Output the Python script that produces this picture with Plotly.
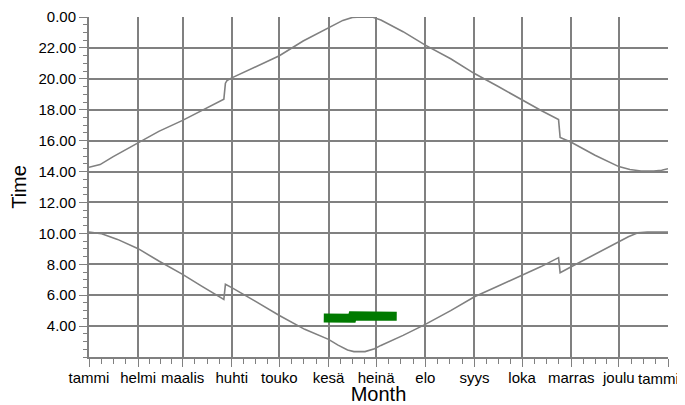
import plotly.graph_objects as go

# Month boundaries (day of year) and labels
month_days = [0, 31, 59, 90, 120, 151, 181, 212, 243, 273, 304, 334, 365]
month_labels = ["tammi", "helmi", "maalis", "huhti", "touko", "kesä", "heinä",
                "elo", "syys", "loka", "marras", "joulu", "tammi"]

# Y ticks (hours), 24 shown as 0.00
hour_ticks = [4, 6, 8, 10, 12, 14, 16, 18, 20, 22, 24]
hour_labels = ["4.00", "6.00", "8.00", "10.00", "12.00", "14.00", "16.00",
               "18.00", "20.00", "22.00", "0.00"]

# Sunset (upper curve)
sunset_day = [0, 7, 15, 31, 44, 59, 72, 85, 86, 87, 90, 105, 120, 135, 151, 160,
              166, 172, 179, 184, 198, 212, 228, 243, 258, 273, 285, 296, 297,
              304, 319, 334, 341, 348, 356, 361, 364, 365]
sunset_h = [14.28, 14.45, 14.95, 15.86, 16.6, 17.31, 17.98, 18.68, 19.72, 19.88,
            20.06, 20.8, 21.49, 22.45, 23.31, 23.78, 23.97, 24.0, 23.98, 23.8,
            23.05, 22.18, 21.3, 20.34, 19.5, 18.61, 17.95, 17.36, 16.2, 15.9,
            15.05, 14.32, 14.13, 14.04, 14.03, 14.08, 14.17, 14.18]

# Sunrise (lower curve)
sunrise_day = [0, 8, 18, 31, 44, 59, 71, 85, 86, 90, 105, 120, 136, 151, 157, 163,
               167, 174, 180, 184, 198, 212, 228, 243, 258, 273, 285, 296, 297,
               304, 319, 334, 340, 346, 352, 365]
sunrise_h = [10.08, 9.97, 9.61, 9.01, 8.21, 7.35, 6.59, 5.73, 6.7, 6.49, 5.6, 4.69,
             3.79, 3.14, 2.77, 2.45, 2.35, 2.35, 2.54, 2.75, 3.4, 4.11, 5.0, 5.9,
             6.6, 7.28, 7.85, 8.43, 7.46, 7.84, 8.65, 9.44, 9.78, 10.04, 10.08, 10.08]

# Green band
green_day = [148, 152, 159, 165.8, 166.2, 180, 190, 194]
green_h = [4.53, 4.52, 4.5, 4.51, 4.66, 4.67, 4.65, 4.64]

GRAY = "#808080"

minor_x = []
for a, b in zip(month_days[:-1], month_days[1:]):
    for k in (1, 2, 3):
        minor_x.append(a + (b - a) * k / 4)

# last label sits at the right edge; drawn as an annotation so it stays inside
tick_text_axis = month_labels[:-1] + [""]

fig = go.Figure()
fig.add_trace(go.Scatter(x=sunset_day, y=sunset_h, mode="lines",
                         line=dict(color=GRAY, width=1.6), showlegend=False,
                         hoverinfo="skip"))
fig.add_trace(go.Scatter(x=sunrise_day, y=sunrise_h, mode="lines",
                         line=dict(color=GRAY, width=1.6), showlegend=False,
                         hoverinfo="skip"))
fig.add_trace(go.Scatter(x=green_day, y=green_h, mode="lines",
                         line=dict(color="#007a00", width=9), showlegend=False,
                         hoverinfo="skip"))

fig.add_annotation(x=month_days[-1], xref="x", y=0, yref="paper",
                   text=month_labels[-1], showarrow=False,
                   xanchor="right", yanchor="top", xshift=13, yshift=-11,
                   font=dict(size=15, color="black"))

# The page body has an 8px margin, so the figure is sized to fit the window.
fig.update_layout(
    width=677, height=397,
    margin=dict(l=81, r=17, t=9, b=48, autoexpand=False),
    paper_bgcolor="white", plot_bgcolor="white",
    font=dict(family="Liberation Sans, Arial, sans-serif", size=15, color="black"),
    xaxis=dict(
        range=[0, 365], tickmode="array", tickvals=month_days, ticktext=tick_text_axis,
        showgrid=True, gridcolor=GRAY, gridwidth=2, zeroline=False,
        showline=True, linecolor=GRAY, linewidth=2, automargin=False,
        ticklabeloverflow="allow", ticklabelstandoff=-2,
        ticks="outside", ticklen=8, tickcolor=GRAY, tickwidth=1,
        minor=dict(tickmode="array", tickvals=minor_x, ticks="outside", ticklen=5,
                   tickcolor=GRAY, tickwidth=1, showgrid=False),
        title=dict(text="Month", font=dict(size=20), standoff=14),
        tickfont=dict(size=15),
    ),
    yaxis=dict(
        range=[2, 24], tickmode="array", tickvals=hour_ticks, ticktext=hour_labels,
        showgrid=True, gridcolor=GRAY, gridwidth=2, zeroline=False,
        showline=True, linecolor=GRAY, linewidth=2, automargin=False,
        ticks="outside", ticklen=8, tickcolor=GRAY, tickwidth=1,
        minor=dict(dtick=0.5, tick0=0, ticks="outside", ticklen=4,
                   tickcolor=GRAY, tickwidth=1, showgrid=False),
        title=dict(text="Time", font=dict(size=20)),
        tickfont=dict(size=15),
    ),
)

fig.write_html("out.html")
